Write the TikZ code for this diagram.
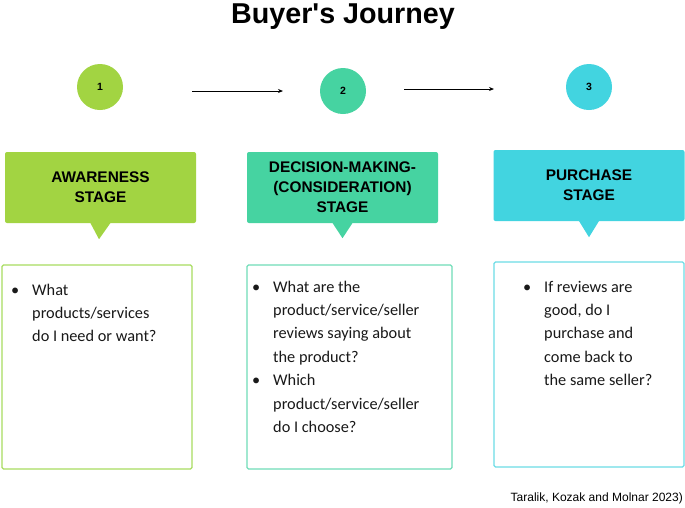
\documentclass[tikz,border=0pt]{standalone}
\usepackage{fontspec}
\setmainfont{Liberation Sans}
\newfontfamily\titlefont{Liberation Sans}[Ligatures=ResetAll]
\newfontfamily\bodyfont{Carlito}
\usetikzlibrary{arrows.meta}
\definecolor{cA}{HTML}{A2D442}
\definecolor{cB}{HTML}{46D3A1}
\definecolor{cC}{HTML}{42D4E0}
\definecolor{oA}{HTML}{A8DC60}
\definecolor{oB}{HTML}{70DDB8}
\definecolor{oC}{HTML}{6CDCE6}
\newcommand{\bl}{\makebox[21pt][l]{\textbullet}}
\begin{document}
\begin{tikzpicture}[x=1pt,y=-1pt,
  numcirc/.style={circle, inner sep=0pt, minimum size=46pt, font=\bfseries\fontsize{10.5}{12}\selectfont},
  stagebox/.style={rectangle, rounded corners=2pt, minimum width=191pt, inner sep=0pt, align=center, font=\bfseries\fontsize{15.4}{20}\selectfont},
  bodybox/.style={rectangle, rounded corners=1.5pt, line width=1.3pt, inner sep=0pt},
  bodytext/.style={anchor=base west, inner sep=0pt, text=black!90, font=\bodyfont\fontsize{16.3}{23.4}\selectfont},
  arr/.style={line width=0.9pt, -{Stealth[length=5pt,width=4pt]}}
]
\useasboundingbox (0,0) rectangle (685,507);
\fill[white] (0,0) rectangle (685,507);

\node[anchor=base, font=\titlefont\bfseries\fontsize{28.7}{32}\selectfont] (title) at (343,23) {Buyer's Journey};

\node[numcirc, fill=cA] (c1) at (100,87) {1};
\node[numcirc, fill=cB] (c2) at (343,91) {2};
\node[numcirc, fill=cC] (c3) at (589,87) {3};

\coordinate (a1s) at (192,91);
\coordinate (a1e) at (283,91);
\coordinate (a2s) at (404,89);
\coordinate (a2e) at (494,89);
\draw[arr] (a1s) -- (a1e);
\draw[arr] (a2s) -- (a2e);

\node[stagebox, fill=cA, minimum height=71pt] (s1) at (100.5,187.5) {AWARENESS\\STAGE};
\node[stagebox, fill=cB, minimum height=71pt] (s2) at (342.5,187.5) {DECISION-MAKING-\\(CONSIDERATION)\\STAGE};
\node[stagebox, fill=cC, minimum height=71pt] (s3) at (589,185.5) {PURCHASE\\STAGE};

\fill[cA] ([xshift=-10.5pt,yshift=1pt]s1.south) -- ([xshift=10.5pt,yshift=1pt]s1.south) -- ([xshift=-1.5pt,yshift=-16pt]s1.south) -- cycle;
\fill[cB] ([xshift=-10.5pt,yshift=1pt]s2.south) -- ([xshift=10.5pt,yshift=1pt]s2.south) -- ([yshift=-15pt]s2.south) -- cycle;
\fill[cC] ([xshift=-10.5pt,yshift=1pt]s3.south) -- ([xshift=10.5pt,yshift=1pt]s3.south) -- ([yshift=-16pt]s3.south) -- cycle;

\node[bodybox, draw=oA, minimum width=190pt, minimum height=204pt] (b1) at (97,367) {};
\node[bodybox, draw=oB, minimum width=205pt, minimum height=204pt] (b2) at (349.5,367) {};
\node[bodybox, draw=oC, minimum width=190pt, minimum height=205pt] (b3) at (589,364.5) {};

\node[bodytext] (t1) at (11,295) {\begin{tabular}[t]{@{}l@{}l@{}}
\bl & What\\
 & products/services\\
 & do I need or want?
\end{tabular}};
\node[bodytext] (t2) at (252,292) {\begin{tabular}[t]{@{}l@{}l@{}}
\bl & What are the\\
 & product/service/seller\\
 & reviews saying about\\
 & the product?\\
\bl & Which\\
 & product/service/seller\\
 & do I choose?
\end{tabular}};
\node[bodytext] (t3) at (523,292) {\begin{tabular}[t]{@{}l@{}l@{}}
\bl & If reviews are\\
 & good, do I\\
 & purchase and\\
 & come back to\\
 & the same seller?
\end{tabular}};

\node[anchor=base east, inner sep=0pt, font=\fontsize{12}{14}\selectfont] (cite) at (683,501) {Taralik, Kozak and Molnar 2023)};
\end{tikzpicture}
\end{document}
